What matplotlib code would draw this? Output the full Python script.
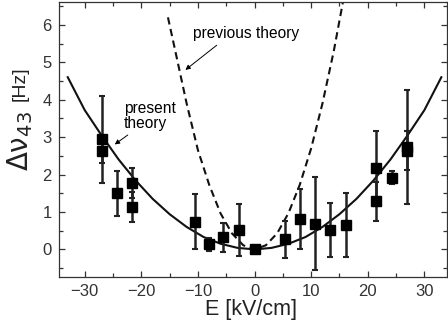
import numpy as np
import matplotlib
matplotlib.use('Agg')
import matplotlib.pyplot as plt
from matplotlib.ticker import MultipleLocator

plt.rcParams['font.family'] = ['Liberation Sans', 'DejaVu Sans']
plt.rcParams['mathtext.fontset'] = 'dejavusans'

# measured points: field E [kV/cm], shift [Hz], error [Hz]
E_meas = [-26.9, -26.9, -24.3, -21.6, -21.6, -10.6, -8.1, -5.5, -2.8, 0.0,
          5.3, 8.1, 10.7, 13.4, 16.2, 21.5, 21.5, 24.2, 27.0, 27.0]
dnu_meas = [2.94, 2.64, 1.50, 1.78, 1.14, 0.74, 0.14, 0.32, 0.52, 0.0,
            0.27, 0.80, 0.69, 0.52, 0.65, 2.17, 1.29, 1.92, 2.73, 2.64]
dnu_err = [1.16, 0.32, 0.60, 0.40, 0.40, 0.73, 0.17, 0.38, 0.69, 0.0,
           0.50, 0.80, 1.25, 0.72, 0.85, 1.00, 0.52, 0.18, 1.52, 0.53]

# present theory (solid)
E_present = [-33, -30, -27, -24, -21, -18, -15, -12, -9, -6, -3, 0,
             3, 6, 9, 12, 15, 18, 21, 24, 27, 30, 33]
dnu_present = [4.60, 3.72, 3.04, 2.40, 1.84, 1.35, 0.94, 0.60, 0.33, 0.15, 0.04, 0.0,
               0.04, 0.15, 0.33, 0.60, 0.94, 1.35, 1.84, 2.40, 3.04, 3.72, 4.60]

# previous theory (dashed)
E_prev = [-15.3, -14, -12, -10, -8, -6, -4, -2, 0, 2, 4, 6, 8, 10, 12, 14, 15.6]
dnu_prev = [6.20, 5.30, 3.90, 2.65, 1.72, 0.96, 0.43, 0.11, 0.0, 0.11, 0.43, 0.97,
            1.73, 2.70, 3.90, 5.30, 6.60]

fig = plt.figure(figsize=(4.48, 3.33), dpi=100)
ax = fig.add_axes([58.7 / 448, 56.3 / 333, (447 - 58.7) / 448, 274.7 / 333])

ax.plot(E_prev, dnu_prev, ls=(0, (3.5, 2.2)), color='#111111', lw=1.5)
ax.plot(E_present, dnu_present, color='#111111', lw=1.5)
ax.errorbar(E_meas, dnu_meas, yerr=dnu_err, fmt='s', color='black', ms=7,
            ecolor='#222222', elinewidth=1.8, capsize=2.5, capthick=1.5)

ax.set_xlim(-34.6, 34.0)
ax.set_ylim(-0.73, 6.61)
ax.xaxis.set_major_locator(MultipleLocator(10))
ax.xaxis.set_minor_locator(MultipleLocator(5))
ax.yaxis.set_major_locator(MultipleLocator(1))
ax.yaxis.set_minor_locator(MultipleLocator(0.5))
ax.tick_params(which='both', direction='in', top=True, right=True,
               labelsize=12, labelcolor='#333333', color='#333333', width=0.9)
ax.tick_params(which='major', length=4, pad=5)
ax.tick_params(which='minor', length=3)
for s in ax.spines.values():
    s.set_color('#333333')
    s.set_linewidth(0.9)

# annotations
ax.text(-10.9, 5.78, 'previous theory', fontsize=11.2, ha='left', va='center')
ax.annotate('', xy=(-12.6, 4.75), xytext=(-6.3, 5.5),
            arrowprops=dict(arrowstyle='-|>', color='black', lw=0.7,
                            mutation_scale=7))
ax.text(-23.1, 3.56, 'present\ntheory', fontsize=11.2, ha='left', va='center',
        linespacing=1.0)
ax.annotate('', xy=(-25.1, 2.76), xytext=(-22.0, 3.1),
            arrowprops=dict(arrowstyle='-|>', color='black', lw=0.7,
                            mutation_scale=7))

# axis labels
fig.text(251 / 448, 1 - 310 / 333, 'E [kV/cm]', fontsize=15.5, ha='center',
         va='center', color='#222222')
fig.text(20 / 448, 1 - 141 / 333, r'$\mathrm{\Delta\nu}_{43}$', fontsize=20,
         rotation=90, ha='center', va='center', color='#222222')
fig.text(20 / 448, 1 - 84 / 333, '[Hz]', fontsize=14, rotation=90,
         ha='center', va='center', color='#222222')

fig.savefig('out.png', dpi=100)
